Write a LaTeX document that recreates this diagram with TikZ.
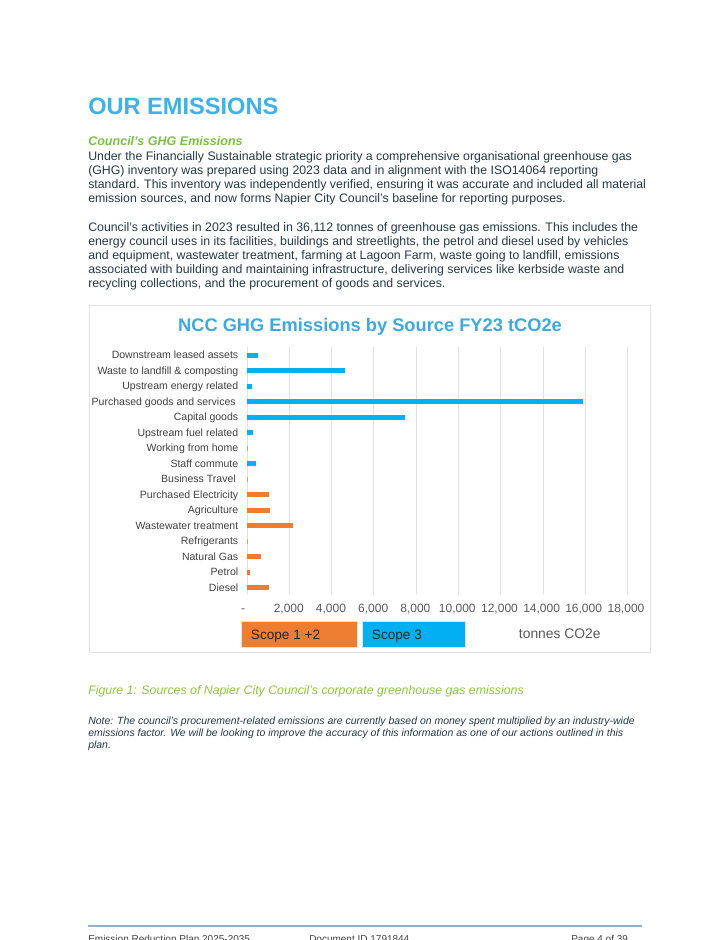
\documentclass[tikz,border=0pt]{standalone}
\usepackage{fontspec}
\setmainfont{Liberation Sans}
\definecolor{headblue}{RGB}{60,178,230}
\definecolor{titleblue}{RGB}{59,170,225}
\definecolor{subgreen}{RGB}{122,193,67}
\definecolor{capgreen}{RGB}{141,198,63}
\definecolor{bodyslate}{RGB}{36,58,72}
\definecolor{barblue}{RGB}{0,176,240}
\definecolor{barorange}{RGB}{237,125,49}
\definecolor{bargreen}{RGB}{146,208,80}
\definecolor{lblgray}{RGB}{64,64,64}
\definecolor{tickgray}{RGB}{89,89,89}
\definecolor{gridgray}{RGB}{226,226,226}
\definecolor{footline}{RGB}{143,178,200}
\begin{document}
\begin{tikzpicture}[x=0.75pt,y=0.75pt,yscale=-1,xscale=1,
  bodytxt/.style={anchor=base west,inner sep=0pt,text=bodyslate,font=\fontsize{9.25}{11}\selectfont},
  notetxt/.style={anchor=base west,inner sep=0pt,text=bodyslate,font=\fontsize{7.85}{9}\selectfont\itshape},
  catlbl/.style={anchor=base east,inner sep=0pt,text=lblgray,font=\fontsize{7.9}{9}\selectfont},
  ticklbl/.style={anchor=base,inner sep=0pt,text=tickgray,font=\fontsize{9}{10}\selectfont},
  foottxt/.style={anchor=base west,inner sep=0pt,text=lblgray,font=\fontsize{7.5}{9}\selectfont},
  scopethree/.style={fill=barblue,draw=none},
  scopeonetwo/.style={fill=barorange,draw=none},
  scopenil/.style={fill=bargreen,draw=none},
  gridline/.style={draw=gridgray,line width=0.75}]
%set diagram left start at 0, and has height of 940
\useasboundingbox (0,0) rectangle (713,940);
\fill[white] (0,0) rectangle (713,940);

% Text Node
\draw (88,114.5) node (heading) [anchor=base west][inner sep=0pt] {\fontsize{17.7}{20}\selectfont\bfseries\color{headblue}OUR EMISSIONS};
% Text Node
\draw (88,145.2) node (subhead) [bodytxt] {\fontsize{9.4}{11}\selectfont\bfseries\itshape\color{subgreen}Council’s GHG Emissions};
% Text Node
\draw (88,160.2) node (pa1) [bodytxt] {Under the Financially Sustainable strategic priority a comprehensive organisational greenhouse gas};
\draw (88,174.2) node (pa2) [bodytxt] {(GHG) inventory was prepared using 2023 data and in alignment with the ISO14064 reporting};
\draw (88,188.2) node (pa3) [bodytxt] {standard. This inventory was independently verified, ensuring it was accurate and included all material};
\draw (88,202.2) node (pa4) [bodytxt] {emission sources, and now forms Napier City Council’s baseline for reporting purposes.};
% Text Node
\draw (88,231.2) node (pb1) [bodytxt] {Council’s activities in 2023 resulted in 36,112 tonnes of greenhouse gas emissions. This includes the};
\draw (88,245.2) node (pb2) [bodytxt] {energy council uses in its facilities, buildings and streetlights, the petrol and diesel used by vehicles};
\draw (88,259.2) node (pb3) [bodytxt] {and equipment, wastewater treatment, farming at Lagoon Farm, waste going to landfill, emissions};
\draw (88,273.2) node (pb4) [bodytxt] {associated with building and maintaining infrastructure, delivering services like kerbside waste and};
\draw (88,287.2) node (pb5) [bodytxt] {recycling collections, and the procurement of goods and services.};

%Shape: Rectangle (chart frame)
\draw [draw=gridgray,line width=0.75] (89.3,305.3) rectangle (650,652.5);
% Text Node
\draw (370,331.5) node (charttitle) [anchor=base][inner sep=0pt] {\fontsize{13.7}{16}\selectfont\bfseries\color{titleblue}NCC GHG Emissions by Source FY23 tCO2e};

%Straight Lines (grid)
\draw [gridline] (247,347) -- (247,595);
\draw [gridline] (289.3,347) -- (289.3,595);
\draw [gridline] (331.6,347) -- (331.6,595);
\draw [gridline] (373.9,347) -- (373.9,595);
\draw [gridline] (416.2,347) -- (416.2,595);
\draw [gridline] (458.5,347) -- (458.5,595);
\draw [gridline] (500.8,347) -- (500.8,595);
\draw [gridline] (543.1,347) -- (543.1,595);
\draw [gridline] (585.4,347) -- (585.4,595);
\draw [gridline] (627.7,347) -- (627.7,595);

%Shape: Rectangle (bars)
\draw [scopethree] (247,352.5) rectangle (258,357.5);
\draw [scopethree] (247,368) rectangle (345,373);
\draw [scopethree] (247,383.5) rectangle (251.7,388.5);
\draw [scopethree] (247,399) rectangle (583,404);
\draw [scopethree] (247,414.5) rectangle (405,419.5);
\draw [scopethree] (247,430) rectangle (252.5,435);
\draw [scopenil] (247,445.5) rectangle (247.8,450.5);
\draw [scopethree] (247,461) rectangle (256,466);
\draw [scopenil] (247,476.5) rectangle (247.8,481.5);
\draw [scopeonetwo] (247,492) rectangle (269,497);
\draw [scopeonetwo] (247,507.5) rectangle (270,512.5);
\draw [scopeonetwo] (247,523) rectangle (293,528);
\draw [scopenil] (247,538.5) rectangle (247.8,543.5);
\draw [scopeonetwo] (247,554) rectangle (261,559);
\draw [scopeonetwo] (247,569.5) rectangle (250,574.5);
\draw [scopeonetwo] (247,585) rectangle (269,590);

% Text Node (categories)
\draw (238.5,358.8) node (downstream) [catlbl] {Downstream leased assets};
\draw (238.5,374.3) node (waste) [catlbl] {Waste to landfill \& composting};
\draw (238.5,389.8) node (upenergy) [catlbl] {Upstream energy related};
\draw (236,405.3) node (purchased) [catlbl] {Purchased goods and services};
\draw (238.5,420.8) node (capital) [catlbl] {Capital goods};
\draw (238.5,436.3) node (upfuel) [catlbl] {Upstream fuel related};
\draw (238.5,451.8) node (wfh) [catlbl] {Working from home};
\draw (238.5,467.3) node (commute) [catlbl] {Staff commute};
\draw (236,482.8) node (travel) [catlbl] {Business Travel};
\draw (238.5,498.3) node (electricity) [catlbl] {Purchased Electricity};
\draw (238.5,513.8) node (agriculture) [catlbl] {Agriculture};
\draw (238.5,529.3) node (wastewater) [catlbl] {Wastewater treatment};
\draw (238.5,544.8) node (refrigerants) [catlbl] {Refrigerants};
\draw (238.5,560.3) node (natgas) [catlbl] {Natural Gas};
\draw (238.5,575.8) node (petrol) [catlbl] {Petrol};
\draw (238.5,591.3) node (diesel) [catlbl] {Diesel};

% Text Node (axis)
\draw (243,612.5) node (tzero) [ticklbl] {-};
\draw (288.8,612.5) node (ttwo) [ticklbl] {2,000};
\draw (331,612.5) node (tfour) [ticklbl] {4,000};
\draw (373.2,612.5) node (tsix) [ticklbl] {6,000};
\draw (415.4,612.5) node (teight) [ticklbl] {8,000};
\draw (457.3,612.5) node (tten) [ticklbl] {10,000};
\draw (499.5,612.5) node (ttwelve) [ticklbl] {12,000};
\draw (541.6,612.5) node (tfourteen) [ticklbl] {14,000};
\draw (583.6,612.5) node (tsixteen) [ticklbl] {16,000};
\draw (626,612.5) node (teighteen) [ticklbl] {18,000};

%Shape: Rectangle (legend)
\draw [fill=barorange,draw=gridgray,line width=0.75] (241.7,621.7) rectangle (357.7,647.3);
\draw [fill=barblue,draw=gridgray,line width=0.75] (362.7,621.7) rectangle (465,647.3);
% Text Node
\draw (250.7,639.4) node (scopeA) [anchor=base west][inner sep=0pt] {\fontsize{10.2}{12}\selectfont\color{black!85}Scope 1 +2};
\draw (371.7,639.4) node (scopeB) [anchor=base west][inner sep=0pt] {\fontsize{10.2}{12}\selectfont\color{black!85}Scope 3};
\draw (518.7,638) node (units) [anchor=base west][inner sep=0pt] {\fontsize{10.4}{12}\selectfont\color{tickgray}tonnes CO2e};

% Text Node
\draw (88,694.2) node (caption) [anchor=base west][inner sep=0pt] {\fontsize{9.25}{11}\selectfont\itshape\color{capgreen}Figure 1: Sources of Napier City Council’s corporate greenhouse gas emissions};
% Text Node
\draw (88,724.5) node (note1) [notetxt] {Note: The council’s procurement-related emissions are currently based on money spent multiplied by an industry-wide};
\draw (88,736.5) node (note2) [notetxt] {emissions factor. We will be looking to improve the accuracy of this information as one of our actions outlined in this};
\draw (88,748.5) node (note3) [notetxt] {plan.};

%Straight Lines (footer)
\draw [draw=footline,line width=1.5] (88,926) -- (642,926);
% Text Node
\draw (88,942.5) node (footleft) [foottxt] {Emission Reduction Plan 2025-2035};
\draw (309,942.5) node (footmid) [foottxt] {Document ID 1791844};
\draw (571,942.5) node (footright) [foottxt] {Page 4 of 39};

\end{tikzpicture}
\end{document}
